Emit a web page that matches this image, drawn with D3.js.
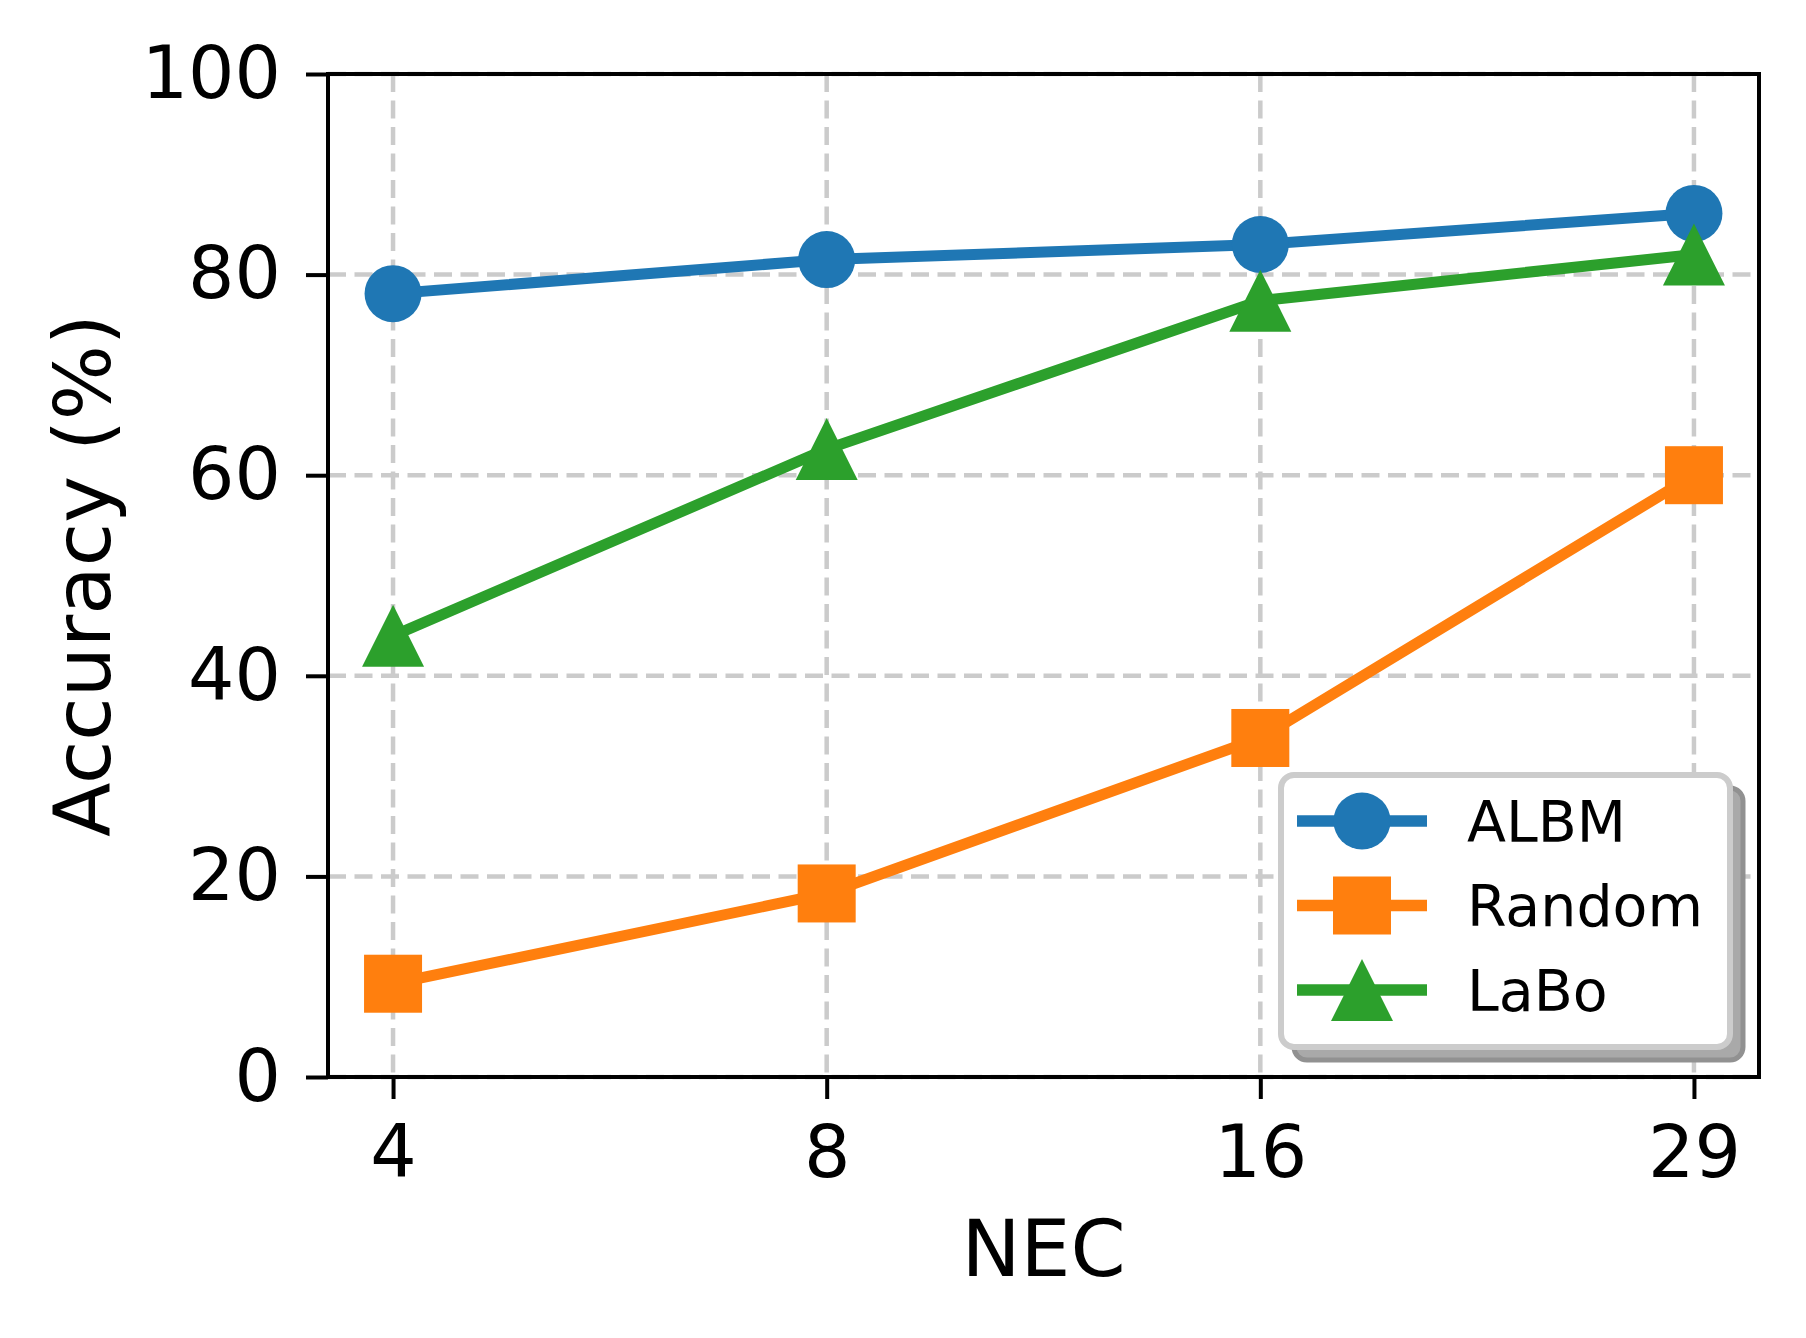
<!DOCTYPE html>
<html>
<head>
<meta charset="utf-8">
<script src="https://cdn.jsdelivr.net/npm/d3@7"></script>
<style>
  html, body { margin: 0; padding: 0; background: #fff; }
  svg { display: block; font-family: "DejaVu Sans", sans-serif; }
</style>
</head>
<body>
<svg id="chart" width="1806" height="1338"></svg>
<script>
// data
const nec = ["4", "8", "16", "29"];
const albm = [78.1, 81.5, 83.0, 86.1];
const random = [9.3, 18.3, 33.8, 60.0];
const labo = [44.0, 62.6, 77.4, 82.0];
const yTicks = [0, 20, 40, 60, 80, 100];

const series = [
    { name: "ALBM", values: albm, color: "#1f77b4", marker: "circle" },
    { name: "Random", values: random, color: "#ff7f0e", marker: "square" },
    { name: "LaBo", values: labo, color: "#2ca02c", marker: "triangle" }
];

const plotLeft = 328, plotRight = 1759, plotTop = 74, plotBottom = 1077;

const svg = d3.select("#chart");

const xScale = d3.scalePoint()
    .domain(nec)
    .range([plotLeft, plotRight])
    .padding(0.15);

const yScale = d3.scaleLinear()
    .domain([0, 100])
    .range([plotBottom, plotTop]);

/**
 * drawMarker: function
 * appends one marker shape centred on 0,0
 */
function drawMarker(g, type, color) {
    if (type === "circle") {
        g.append("circle").attr("r", 28.5).attr("fill", color);
    } else if (type === "square") {
        g.append("rect")
            .attr("x", -29).attr("y", -29)
            .attr("width", 58).attr("height", 58)
            .attr("fill", color);
    } else {
        g.append("path")
            .attr("d", "M0,-31L31,31L-31,31Z")
            .attr("fill", color);
    }
}

// grid
const grid = svg.append("g").attr("class", "grid");
grid.selectAll("line.h")
    .data(yTicks)
    .enter()
    .append("line")
    .attr("class", "h")
    .attr("x1", plotLeft).attr("x2", plotRight)
    .attr("y1", d => yScale(d)).attr("y2", d => yScale(d));
grid.selectAll("line.v")
    .data(nec)
    .enter()
    .append("line")
    .attr("class", "v")
    .attr("x1", d => xScale(d)).attr("x2", d => xScale(d))
    .attr("y1", plotTop).attr("y2", plotBottom);
grid.selectAll("line")
    .attr("stroke", "#cbcbcb")
    .attr("stroke-width", 4.5)
    .attr("stroke-dasharray", "18 8.5");

// axes
const xAxis = svg.append("g")
    .attr("transform", `translate(0,${plotBottom})`)
    .call(d3.axisBottom(xScale).tickSize(22).tickPadding(26));
const yAxis = svg.append("g")
    .attr("transform", `translate(${plotLeft},0)`)
    .call(d3.axisLeft(yScale).tickValues(yTicks).tickSize(22).tickPadding(25));

[xAxis, yAxis].forEach(axis => {
    axis.select(".domain").remove();
    axis.selectAll("line").attr("stroke", "#000").attr("stroke-width", 4);
    axis.selectAll("text")
        .attr("fill", "#000")
        .attr("font-size", 73)
        .attr("font-family", "DejaVu Sans");
});

// lines and markers
const line = d3.line()
    .x((d, i) => xScale(nec[i]))
    .y(d => yScale(d));

series.forEach(s => {
    svg.append("path")
        .datum(s.values)
        .attr("d", line)
        .attr("fill", "none")
        .attr("stroke", s.color)
        .attr("stroke-width", 11)
        .attr("stroke-linejoin", "round")
        .attr("stroke-linecap", "square");
    svg.append("g")
        .selectAll("g")
        .data(s.values)
        .enter()
        .append("g")
        .attr("transform", (d, i) => `translate(${xScale(nec[i])},${yScale(d)})`)
        .each(function () { drawMarker(d3.select(this), s.marker, s.color); });
});

// frame
svg.append("rect")
    .attr("x", plotLeft).attr("y", plotTop)
    .attr("width", plotRight - plotLeft).attr("height", plotBottom - plotTop)
    .attr("fill", "none")
    .attr("stroke", "#000")
    .attr("stroke-width", 4);

// axis labels
svg.append("text")
    .attr("x", (plotLeft + plotRight) / 2)
    .attr("y", 1276)
    .attr("text-anchor", "middle")
    .attr("font-size", 79)
    .text("NEC");
svg.append("text")
    .attr("transform", `translate(110,${(plotTop + plotBottom) / 2}) rotate(-90)`)
    .attr("text-anchor", "middle")
    .attr("font-size", 79)
    .text("Accuracy (%)");

// legend
const legend = svg.append("g").attr("class", "legend");
const lx = 1281, ly = 775, lw = 449, lh = 272;
legend.append("rect")
    .attr("x", lx + 13).attr("y", ly + 13)
    .attr("width", lw).attr("height", lh)
    .attr("rx", 13)
    .attr("fill", "#a9a9a9")
    .attr("stroke", "#919191")
    .attr("stroke-width", 5);
legend.append("rect")
    .attr("x", lx).attr("y", ly)
    .attr("width", lw).attr("height", lh)
    .attr("rx", 13)
    .attr("fill", "#fff")
    .attr("stroke", "#cccccc")
    .attr("stroke-width", 6);

const rows = legend.selectAll("g.row")
    .data(series)
    .enter()
    .append("g")
    .attr("class", "row")
    .attr("transform", (d, i) => `translate(0,${821 + i * 84.5})`);
rows.append("line")
    .attr("x1", 1297).attr("x2", 1427)
    .attr("stroke", d => d.color)
    .attr("stroke-width", 11.5);
rows.append("g")
    .attr("transform", "translate(1362,0)")
    .each(function (d) { drawMarker(d3.select(this), d.marker, d.color); });
rows.append("text")
    .attr("x", 1467)
    .attr("y", 20.5)
    .attr("font-size", 57)
    .attr("fill", "#000")
    .text(d => d.name);
</script>
</body>
</html>
